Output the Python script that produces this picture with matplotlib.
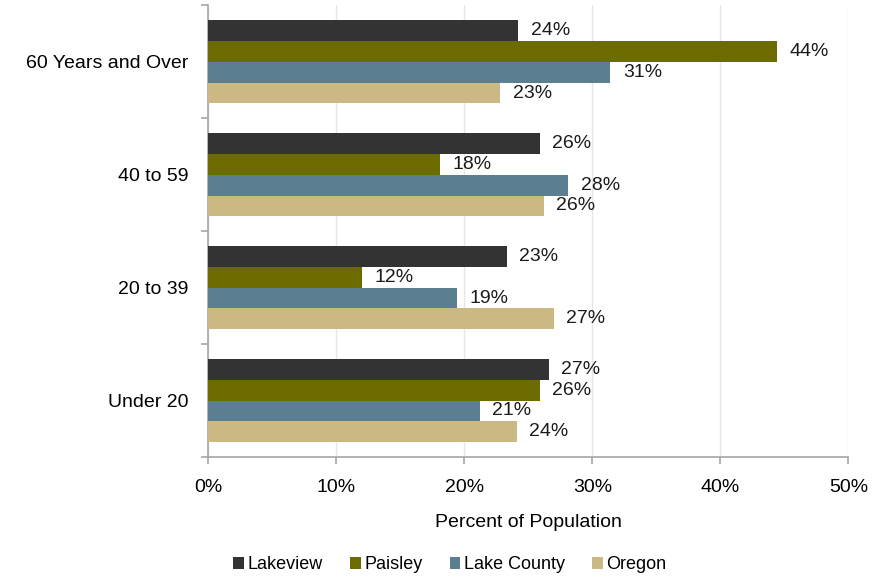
import matplotlib.pyplot as plt
import numpy as np

plt.rcParams['font.family'] = ['Liberation Sans', 'DejaVu Sans']

categories = ["Under 20", "20 to 39", "40 to 59", "60 Years and Over"]
series = ["Lakeview", "Paisley", "Lake County", "Oregon"]
lakeview = [26.6, 23.3, 25.9, 24.2]
paisley = [25.9, 12.0, 18.1, 44.4]
lake_county = [21.2, 19.4, 28.1, 31.4]
oregon = [24.1, 27.0, 26.2, 22.8]
colors = ["#333333", "#6B6B00", "#5B7F91", "#CCB882"]

values = [lakeview, paisley, lake_county, oregon]
fs = 14

fig, ax = plt.subplots(figsize=(8.82, 5.77), dpi=100)
fig.subplots_adjust(left=0.236, right=0.962, top=0.991, bottom=0.208)

y = np.arange(len(categories))
h = 0.185
for i, (name, vals, c) in enumerate(zip(series, values, colors)):
    pos = y + (1.5 - i) * h
    ax.barh(pos, vals, height=h, color=c, label=name, zorder=3)
    for p, v in zip(pos, vals):
        ax.annotate(f"{round(v):.0f}%", (v, p), xytext=(9, 0), textcoords="offset points",
                    va="center", ha="left", fontsize=fs, color="#1a1a1a")

ax.set_xlim(0, 50)
ax.set_ylim(-0.5, len(categories) - 0.5)
ax.set_xticks(np.arange(0, 51, 10))
ax.set_xticklabels([f"{t}%" for t in range(0, 51, 10)], fontsize=fs)
ax.set_yticks(y)
ax.set_yticklabels(categories, fontsize=fs)
ax.set_yticks(np.arange(-0.5, len(categories), 1), minor=True)
ax.tick_params(axis="y", which="major", length=0, pad=14)
ax.tick_params(axis="y", which="minor", length=5, color="#a6a6a6", width=1.2)
ax.tick_params(axis="x", length=5, color="#a6a6a6", width=1.2, pad=11)
ax.grid(axis="x", color="#e6e6e6", linewidth=1, zorder=0)
for s in ["top", "right"]:
    ax.spines[s].set_visible(False)
for s in ["left", "bottom"]:
    ax.spines[s].set_color("#a6a6a6")
    ax.spines[s].set_linewidth(1.2)

ax.set_xlabel("Percent of Population", fontsize=fs, labelpad=13)
fig.legend(loc="center", bbox_to_anchor=(0.51, 0.021), ncol=4, frameon=False,
           fontsize=13, handlelength=0.6, handleheight=0.6, handletextpad=0.2,
           columnspacing=1.5, borderaxespad=0)

fig.savefig("out.png", dpi=100)
